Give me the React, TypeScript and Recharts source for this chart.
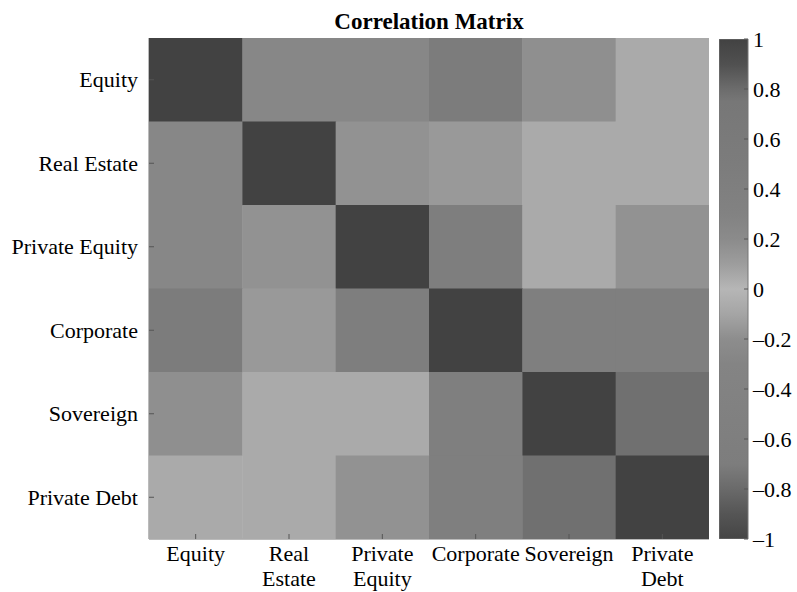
import { ScatterChart, Scatter, XAxis, YAxis, BarChart, Bar } from "recharts";

// asset classes, in row / column order
const assets = ["Equity", "Real Estate", "Private Equity", "Corporate", "Sovereign", "Private Debt"];
const xTickLines = [
  ["Equity"],
  ["Real", "Estate"],
  ["Private", "Equity"],
  ["Corporate"],
  ["Sovereign"],
  ["Private", "Debt"],
];

// correlation rows
const equityRow = [1, 0.25, 0.25, 0.5, 0.18, 0.05];
const realEstateRow = [0.25, 1, 0.16, 0.12, 0.05, 0.05];
const privateEquityRow = [0.25, 0.16, 1, 0.45, 0.05, 0.16];
const corporateRow = [0.5, 0.12, 0.45, 1, 0.4, 0.4];
const sovereignRow = [0.18, 0.05, 0.05, 0.4, 1, 0.78];
const privateDebtRow = [0.05, 0.05, 0.16, 0.4, 0.78, 1];
const matrix = [equityRow, realEstateRow, privateEquityRow, corporateRow, sovereignRow, privateDebtRow];

const colorbarTicks = [1, 0.8, 0.6, 0.4, 0.2, 0, -0.2, -0.4, -0.6, -0.8, -1];
const cellTicks = [0.5, 1.5, 2.5, 3.5, 4.5, 5.5];

// grey colormap: [value, grey level]
const colorStops: [number, number][] = [
  [1, 0x42],
  [0.9, 0x50],
  [0.85, 0x5e],
  [0.8, 0x6c],
  [0.75, 0x77],
  [0.5, 0x7c],
  [0.3, 0x82],
  [0.2, 0x8b],
  [0.1, 0x9d],
  [0, 0xb6],
  [-0.1, 0xa5],
  [-0.2, 0x8d],
  [-0.3, 0x84],
  [-0.7, 0x7d],
  [-0.8, 0x6a],
  [-0.9, 0x55],
  [-1, 0x45],
];

const FONT = "'Liberation Serif', 'Times New Roman', serif";
const FS = 22;
const W = 797;
const H = 592;
const PLOT_L = 149;
const PLOT_R = 709;
const PLOT_T = 38;
const PLOT_B = 539;
const CELL_W = (PLOT_R - PLOT_L) / 6;
const CELL_H = (PLOT_B - PLOT_T) / 6;

function grey(v: number) {
  for (let i = 0; i < colorStops.length - 1; i++) {
    const [v0, g0] = colorStops[i];
    const [v1, g1] = colorStops[i + 1];
    if (v <= v0 && v >= v1) {
      const t = (v0 - v) / (v0 - v1);
      const g = Math.round(g0 + (g1 - g0) * t);
      return `rgb(${g},${g},${g})`;
    }
  }
  return "#808080";
}

const cells = matrix.flatMap((row, i) =>
  row.map((value, j) => ({ x: j + 0.5, y: i + 0.5, value, row: assets[i], col: assets[j] }))
);

const colorbarData = [{ name: "scale", range: [-1, 1] }];

const CellShape = (props: any) => {
  const { cx, cy, payload } = props;
  return (
    <rect
      x={cx - CELL_W / 2}
      y={cy - CELL_H / 2}
      width={CELL_W + 0.5}
      height={CELL_H + 0.5}
      fill={grey(payload.value)}
    />
  );
};

const BottomTick = ({ x, y, payload }: any) => {
  const lines = xTickLines[Math.floor(payload.value)] || [];
  return (
    <g>
      <line x1={x} x2={x} y1={y} y2={y - 5} stroke="#555" />
      <text x={x} y={y} textAnchor="middle" fontFamily={FONT} fontSize={FS} fill="#000">
        {lines.map((l, k) => (
          <tspan key={k} x={x} dy={k === 0 ? 22 : 25}>
            {l}
          </tspan>
        ))}
      </text>
    </g>
  );
};

const TopTick = ({ x, y }: any) => <line x1={x} x2={x} y1={y} y2={y + 5} stroke="#555" />;

const LeftTick = ({ x, y, payload }: any) => (
  <g>
    <line x1={x} x2={x + 5} y1={y} y2={y} stroke="#555" />
    <text x={x - 11} y={y} dy="0.35em" textAnchor="end" fontFamily={FONT} fontSize={FS} fill="#000">
      {assets[Math.floor(payload.value)]}
    </text>
  </g>
);

const RightTick = ({ x, y }: any) => <line x1={x} x2={x - 5} y1={y} y2={y} stroke="#555" />;

const ColorbarTick = ({ x, y, payload }: any) => {
  const v = payload.value as number;
  const label = v < 0 ? `\u2013${Math.abs(v)}` : `${v}`;
  return (
    <g>
      <line x1={x} x2={x - 4} y1={y} y2={y} stroke="#555" />
      <text x={x + 5} y={y} dy="0.35em" textAnchor="start" fontFamily={FONT} fontSize={FS} fill="#000">
        {label}
      </text>
    </g>
  );
};

export default function App() {
  return (
    <div style={{ position: "absolute", left: 0, top: 0, width: W, height: H, background: "#fff" }}>
      <div
        style={{
          position: "absolute",
          left: PLOT_L,
          width: PLOT_R - PLOT_L,
          top: 9,
          textAlign: "center",
          fontFamily: FONT,
          fontWeight: "bold",
          fontSize: 23,
          lineHeight: "26px",
        }}
      >
        Correlation Matrix
      </div>
      <div style={{ position: "absolute", left: 0, top: 0 }}>
        <ScatterChart
          width={W}
          height={H}
          margin={{ top: PLOT_T, right: W - PLOT_R, bottom: 0, left: 0 }}
        >
          <XAxis
            xAxisId="b"
            type="number"
            dataKey="x"
            domain={[0, 6]}
            ticks={cellTicks}
            orientation="bottom"
            height={H - PLOT_B}
            tickSize={0}
            tickMargin={0}
            tickLine={false}
            tick={<BottomTick />}
            axisLine={{ stroke: "#777" }}
            interval={0}
            allowDataOverflow
          />
          <XAxis
            xAxisId="t"
            type="number"
            domain={[0, 6]}
            ticks={cellTicks}
            orientation="top"
            height={0}
            tickSize={0}
            tickMargin={0}
            tickLine={false}
            tick={<TopTick />}
            axisLine={{ stroke: "#777" }}
            interval={0}
            allowDataOverflow
          />
          <YAxis
            yAxisId="l"
            type="number"
            dataKey="y"
            domain={[0, 6]}
            reversed
            ticks={cellTicks}
            orientation="left"
            width={PLOT_L}
            tickSize={0}
            tickMargin={0}
            tickLine={false}
            tick={<LeftTick />}
            axisLine={{ stroke: "#777" }}
            interval={0}
            allowDataOverflow
          />
          <YAxis
            yAxisId="r"
            type="number"
            domain={[0, 6]}
            reversed
            ticks={cellTicks}
            orientation="right"
            width={0}
            tickSize={0}
            tickMargin={0}
            tickLine={false}
            tick={<RightTick />}
            axisLine={{ stroke: "#777" }}
            interval={0}
            allowDataOverflow
          />
          <Scatter
            data={cells}
            xAxisId="b"
            yAxisId="l"
            shape={<CellShape />}
            isAnimationActive={false}
          />
        </ScatterChart>
      </div>
      <div style={{ position: "absolute", left: 719, top: 0 }}>
        <BarChart
          width={78}
          height={H}
          data={colorbarData}
          margin={{ top: 39, right: 0, bottom: H - PLOT_B, left: 0 }}
          barCategoryGap={0}
        >
          <defs>
            <linearGradient id="cbGrad" x1="0" y1="0" x2="0" y2="1">
              {colorStops.map(([v, g]) => (
                <stop key={v} offset={`${((1 - v) / 2) * 100}%`} stopColor={`rgb(${g},${g},${g})`} />
              ))}
            </linearGradient>
          </defs>
          <XAxis dataKey="name" hide />
          <YAxis
            type="number"
            domain={[-1, 1]}
            ticks={colorbarTicks}
            orientation="right"
            width={49}
            tickSize={0}
            tickMargin={0}
            tickLine={false}
            axisLine={false}
            tick={<ColorbarTick />}
            interval={0}
            allowDataOverflow
          />
          <Bar dataKey="range" fill="url(#cbGrad)" stroke="#777" isAnimationActive={false} />
        </BarChart>
      </div>
    </div>
  );
}
